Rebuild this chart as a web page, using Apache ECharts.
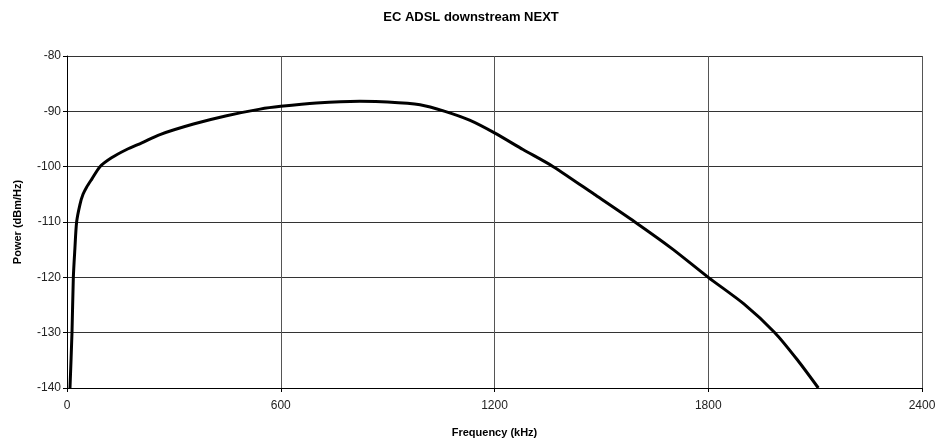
<!DOCTYPE html>
<html>
<head>
<meta charset="utf-8">
<script src="https://cdn.jsdelivr.net/npm/echarts@6/dist/echarts.min.js"></script>
<style>
  html, body { margin: 0; padding: 0; background: #fff; }
  #chart { width: 942px; height: 443px; }
</style>
</head>
<body>
<div id="chart"></div>
<script>
// frequency in kHz, power in dBm/Hz
var freq = [8.4, 14, 17.8, 22, 27, 36.5, 45, 55, 70, 92.6, 125, 167.5, 210, 261, 355, 448, 542, 600, 700, 822, 900, 991, 1061, 1130, 1200, 1280, 1365, 1480, 1594, 1700, 1800, 1900, 1987, 2050, 2109];
var power = [-140, -130, -120, -115, -110, -106.8, -105, -103.7, -102.2, -100, -98.4, -96.9, -95.7, -94.2, -92.3, -90.8, -89.6, -89.1, -88.5, -88.2, -88.3, -88.8, -90, -91.6, -93.9, -96.9, -100, -105, -110, -114.9, -120, -124.8, -130, -134.9, -140];

var pts = freq.map(function (f, i) { return [f, power[i]]; });

var chart = echarts.init(document.getElementById('chart'));
var font = '"Liberation Sans", Arial, sans-serif';
var plain = function (v) { return String(v); };
var option = {
  backgroundColor: '#fff',
  animation: false,
  title: {
    text: 'EC ADSL downstream NEXT',
    left: 'center',
    top: 6,
    textStyle: { fontFamily: font, fontSize: 13, fontWeight: 'bold', color: '#000' }
  },
  grid: { left: 67, right: 20, top: 56, bottom: 53 },
  xAxis: {
    type: 'value',
    min: 0,
    max: 2400,
    interval: 600,
    name: 'Frequency (kHz)',
    nameLocation: 'middle',
    nameGap: 39,
    nameTextStyle: { fontFamily: font, fontSize: 11, fontWeight: 'bold', color: '#000' },
    axisLine: { show: true, lineStyle: { color: '#000', width: 1 } },
    axisTick: { show: true, length: 4, lineStyle: { color: '#000' } },
    axisLabel: { fontFamily: font, fontSize: 12, color: '#222', margin: 12, formatter: plain },
    splitLine: { show: true, lineStyle: { color: '#555', width: 1 } }
  },
  yAxis: {
    type: 'value',
    min: -140,
    max: -80,
    interval: 10,
    name: 'Power (dBm/Hz)',
    nameLocation: 'middle',
    nameGap: 44,
    nameTextStyle: { fontFamily: font, fontSize: 11, fontWeight: 'bold', color: '#000' },
    axisLine: { show: true, lineStyle: { color: '#000', width: 1 } },
    axisTick: { show: true, length: 4, lineStyle: { color: '#000' } },
    axisLabel: { fontFamily: font, fontSize: 12, color: '#222', margin: 6, formatter: plain },
    splitLine: { show: true, lineStyle: { color: '#333', width: 1 } }
  },
  series: [{
    type: 'line',
    data: pts,
    smooth: 0.25,
    showSymbol: false,
    lineStyle: { color: '#000', width: 3 }
  }]
};
chart.setOption(option);
window.addEventListener('resize', chart.resize);
</script>
</body>
</html>
